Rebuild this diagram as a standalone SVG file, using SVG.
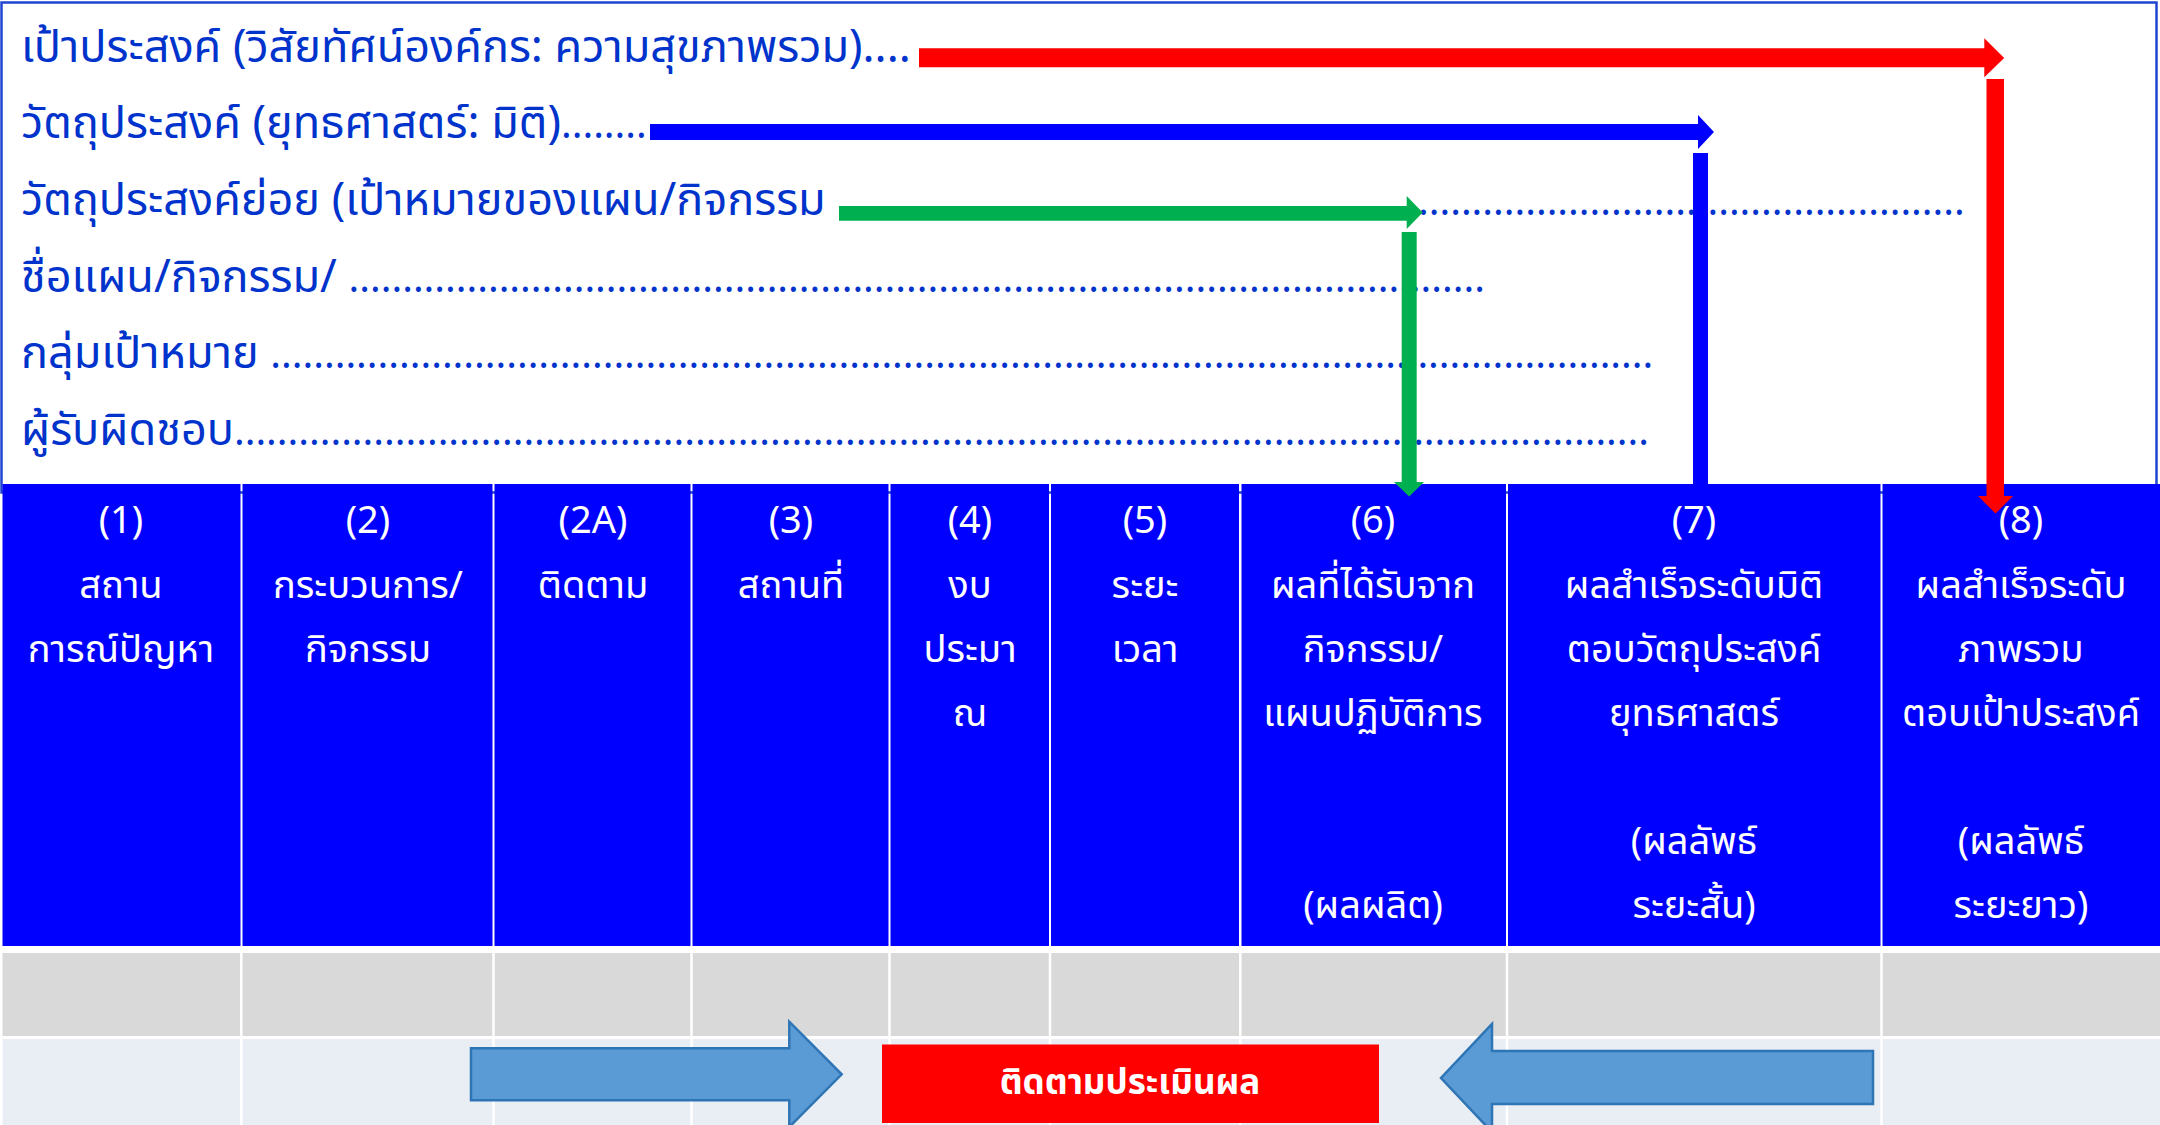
<svg xmlns="http://www.w3.org/2000/svg" width="2160" height="1125" viewBox="0 0 2160 1125">
<style>
.lt{font-family:"Noto Sans","Noto Sans Thai",sans-serif;font-size:45px;fill:#0033cc}
.dt{font-size:40px}
.ht{font-family:"Noto Sans","Noto Sans Thai",sans-serif;font-size:38px;fill:#ffffff;text-anchor:middle}
.cell{fill:#0000ff}
.grey{fill:#d9d9d9}
.light{fill:#e9edf4}
.sep{stroke:#ffffff;stroke-width:2.5}
.big{fill:#5b9bd5;stroke:#2e75b6;stroke-width:2.5;stroke-linejoin:miter}
</style>
<rect x="0" y="0" width="2160" height="1125" fill="#ffffff"/>
<g id="frame">
<rect x="1.5" y="2.5" width="2155" height="490" fill="none" stroke="#1f45d0" stroke-width="2.5"/>
</g>
<g id="labels">
<text class="lt" x="21" y="62">เป้าประสงค์ (วิสัยทัศน์องค์กร: ความสุขภาพรวม)....</text>
<text class="lt" x="21" y="138">วัตถุประสงค์ (ยุทธศาสตร์: มิติ)<tspan class="dt">........</tspan></text>
<text class="lt" x="21" y="215">วัตถุประสงค์ย่อย (เป้าหมายของแผน/กิจกรรม</text>
<text class="lt dt" x="1418" y="215">...................................................</text>
<text class="lt" x="21" y="292">ชื่อแผน/กิจกรรม/ <tspan class="dt">..........................................................................................................</tspan></text>
<text class="lt" x="21" y="368">กลุ่มเป้าหมาย <tspan class="dt">.................................................................................................................................</tspan></text>
<text class="lt" x="21" y="445">ผู้รับผิดชอบ<tspan class="dt">....................................................................................................................................</tspan></text>
</g>
<g id="table">
<g id="col1"><rect class="cell" x="2.5" y="484" width="238" height="462"/>
<text class="ht" x="121" y="533">(1)</text><text class="ht" x="121" y="598">สถาน</text><text class="ht" x="121" y="662">การณ์ปัญหา</text></g>
<g id="col2"><rect class="cell" x="242.5" y="484" width="250" height="462"/>
<text class="ht" x="368" y="533">(2)</text><text class="ht" x="368" y="598">กระบวนการ/</text><text class="ht" x="368" y="662">กิจกรรม</text></g>
<g id="col3"><rect class="cell" x="494.5" y="484" width="196" height="462"/>
<text class="ht" x="593" y="533">(2A)</text><text class="ht" x="593" y="598">ติดตาม</text></g>
<g id="col4"><rect class="cell" x="692.5" y="484" width="196" height="462"/>
<text class="ht" x="791" y="533">(3)</text><text class="ht" x="791" y="598">สถานที่</text></g>
<g id="col5"><rect class="cell" x="890.5" y="484" width="158.5" height="462"/>
<text class="ht" x="970" y="533">(4)</text><text class="ht" x="970" y="598">งบ</text><text class="ht" x="970" y="662">ประมา</text><text class="ht" x="970" y="726">ณ</text></g>
<g id="col6"><rect class="cell" x="1051" y="484" width="188" height="462"/>
<text class="ht" x="1145" y="533">(5)</text><text class="ht" x="1145" y="598">ระยะ</text><text class="ht" x="1145" y="662">เวลา</text></g>
<g id="col7"><rect class="cell" x="1241.5" y="484" width="264.5" height="462"/>
<text class="ht" x="1373" y="533">(6)</text><text class="ht" x="1373" y="598">ผลที่ได้รับจาก</text><text class="ht" x="1373" y="662">กิจกรรม/</text><text class="ht" x="1373" y="726">แผนปฏิบัติการ</text><text class="ht" x="1373" y="918">(ผลผลิต)</text></g>
<g id="col8"><rect class="cell" x="1508" y="484" width="372.5" height="462"/>
<text class="ht" x="1694" y="533">(7)</text><text class="ht" x="1694" y="598">ผลสำเร็จระดับมิติ</text><text class="ht" x="1694" y="662">ตอบวัตถุประสงค์</text><text class="ht" x="1694" y="726">ยุทธศาสตร์</text><text class="ht" x="1694" y="854">(ผลลัพธ์</text><text class="ht" x="1694" y="918">ระยะสั้น)</text></g>
<g id="col9"><rect class="cell" x="1882.5" y="484" width="277.5" height="462"/>
<text class="ht" x="2021" y="533">(8)</text><text class="ht" x="2021" y="598">ผลสำเร็จระดับ</text><text class="ht" x="2021" y="662">ภาพรวม</text><text class="ht" x="2021" y="726">ตอบเป้าประสงค์</text><text class="ht" x="2021" y="854">(ผลลัพธ์</text><text class="ht" x="2021" y="918">ระยะยาว)</text></g>
<g id="rows">
<rect class="grey" x="2.5" y="953" width="2157.5" height="83"/>
<rect class="light" x="2.5" y="1039" width="2157.5" height="86"/>
<path class="sep" d="M241.3 953V1125M493.5 953V1125M691.5 953V1125M889.5 953V1125M1050 953V1125M1240.3 953V1125M1507 953V1125M1881.5 953V1125"/>
</g>
</g>
<g id="connectors">
<polygon fill="#ff0000" points="919,48.3 1984.3,48.3 1984.3,38.3 2004.2,58 1984.3,77.3 1984.3,67.3 919,67.3"/>
<polygon fill="#ff0000" points="1986.5,79 2004,79 2004,496 2013,496 1995.5,513.5 1978,496 1986.5,496"/>
<polygon fill="#0000ff" points="650,124 1698,124 1698,115 1714,132 1698,149 1698,140 650,140"/>
<rect fill="#0000ff" x="1693" y="153" width="15" height="331"/>
<polygon fill="#00b050" points="839,206 1406.7,206 1406.7,196 1422.7,212.5 1406.7,229 1406.7,220.7 839,220.7"/>
<polygon fill="#00b050" points="1401.7,232 1416.7,232 1416.7,482 1424,482 1409.2,496.5 1394,482 1401.7,482"/>
<polygon class="big" points="471,1048.3 789.3,1048.3 789.3,1021.7 841.7,1074.3 789.3,1127 789.3,1100.3 471,1100.3"/>
<polygon class="big" points="1873,1051 1492,1051 1492,1024 1441,1078 1492,1132 1492,1104 1873,1104"/>
</g>
<g id="monitor">
<rect x="882" y="1044.5" width="497" height="78.5" fill="#ff0000"/>
<text x="1130" y="1094" text-anchor="middle" font-family="Noto Sans,Noto Sans Thai,sans-serif" font-size="35" font-weight="bold" fill="#ffffff">ติดตามประเมินผล</text>
</g>
</svg>
